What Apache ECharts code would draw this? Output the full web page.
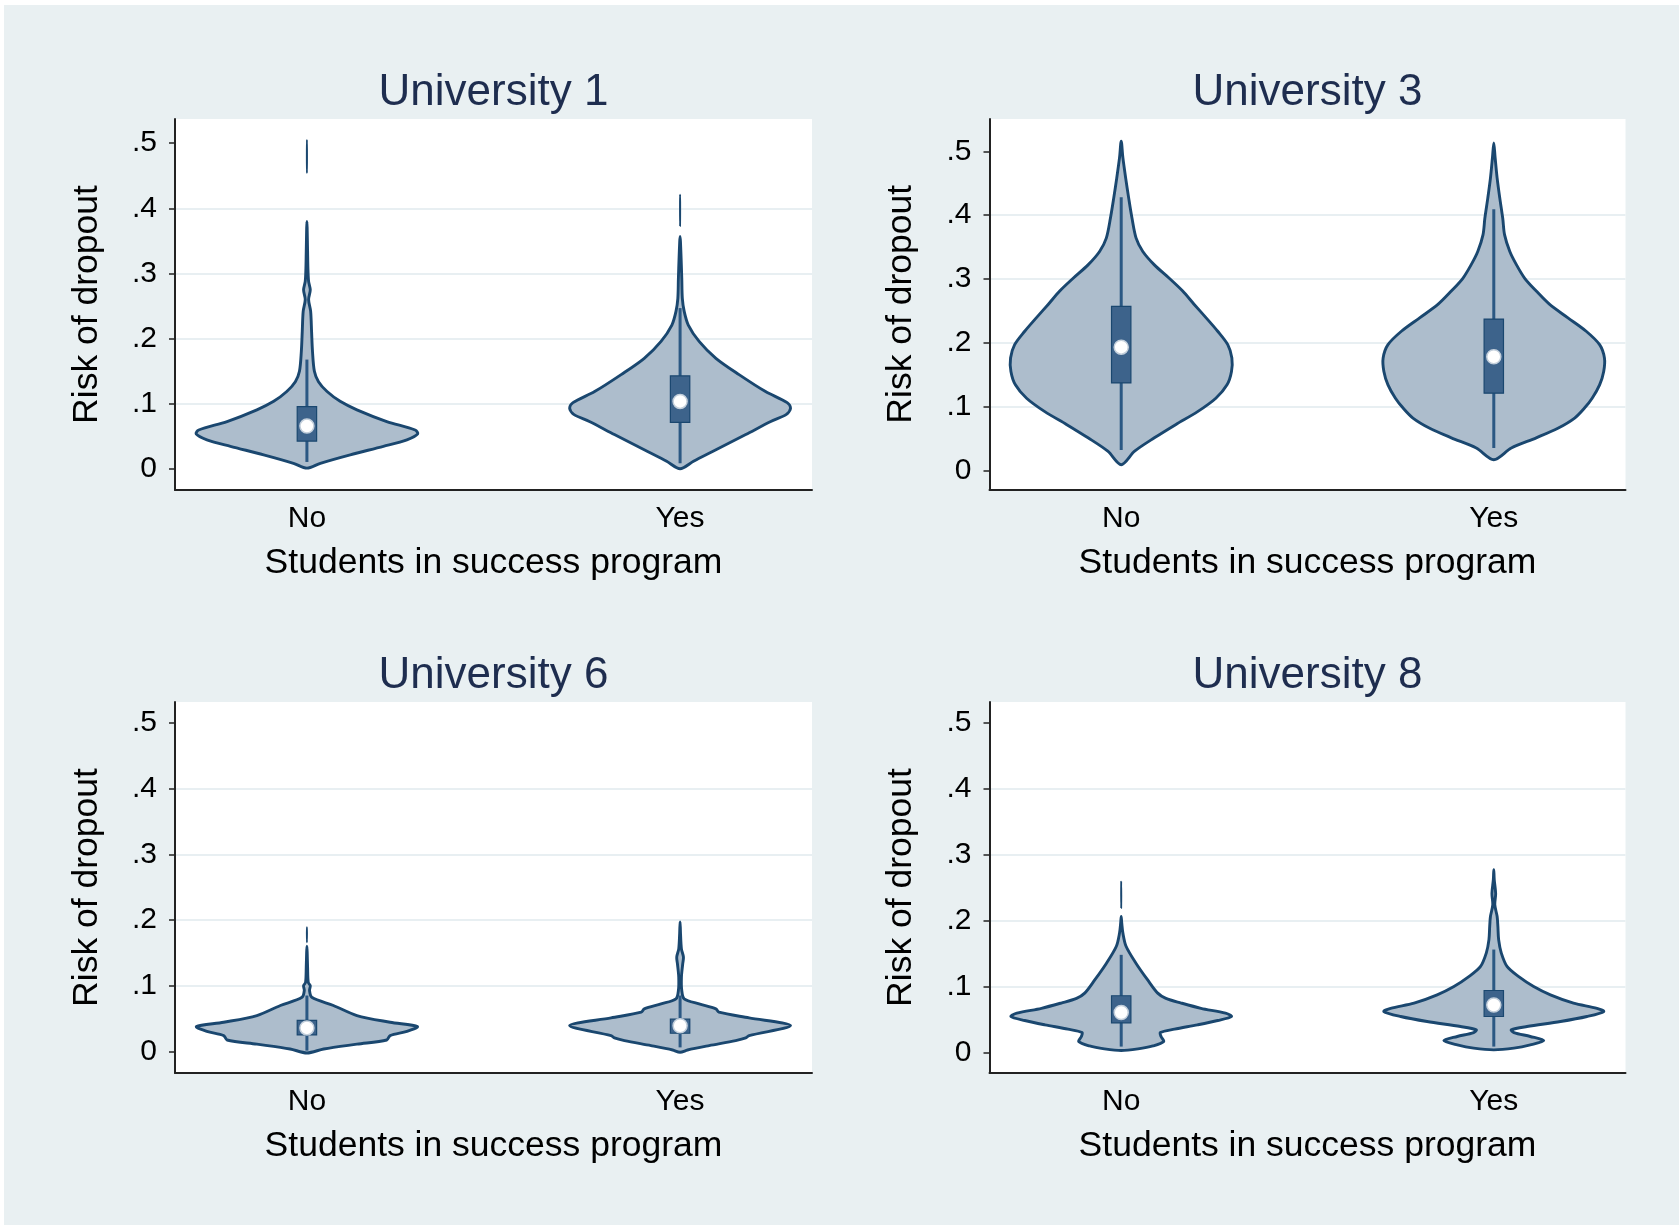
<!DOCTYPE html>
<html>
<head>
<meta charset="utf-8">
<script src="https://cdn.jsdelivr.net/npm/echarts@6/dist/echarts.min.js"></script>
<style>
html,body{margin:0;padding:0;background:#ffffff;}
#chart{width:1679px;height:1225px;}
</style>
</head>
<body>
<div id="chart"></div>
<script>
// ---------- data ----------
const categories = ['No', 'Yes'];
const yTickValues = [0, 0.1, 0.2, 0.3, 0.4, 0.5];
const yTickLabels = ['0', '.1', '.2', '.3', '.4', '.5'];
const panelTitles = ['University 1', 'University 3', 'University 6', 'University 8'];
const yAxisTitle = 'Risk of dropout';
const xAxisTitle = 'Students in success program';

// Violin outlines: [risk of dropout, half-width (density, x-axis units)]; null = gap in the outline
const u1NoViolin = [[0.0015,0],[0.009,0.036],[0.022,0.116],[0.035,0.205],[0.045,0.268],[0.054,0.297],[0.060,0.290],[0.073,0.214],[0.091,0.134],[0.104,0.089],[0.119,0.054],[0.134,0.031],[0.150,0.020],[0.180,0.015],[0.211,0.0125],[0.242,0.010],[0.260,0.0045],[0.275,0.009],[0.288,0.0045],[0.308,0.0027],[0.334,0.0018],[0.380,0],null,[0.454,0],[0.47,0.0003],[0.49,0.0003],[0.505,0]];
const u1YesViolin = [[0.0005,0],[0.012,0.036],[0.027,0.087],[0.053,0.176],[0.073,0.243],[0.084,0.285],[0.0936,0.296],[0.102,0.287],[0.119,0.229],[0.145,0.158],[0.170,0.096],[0.196,0.051],[0.221,0.022],[0.242,0.011],[0.262,0.006],[0.293,0.0045],[0.324,0.0027],[0.349,0.001],[0.357,0],null,[0.373,0],[0.39,0.0003],[0.41,0.0003],[0.421,0]];
const u3NoViolin = [[0.0089,0],[0.030,0.036],[0.051,0.089],[0.072,0.147],[0.092,0.205],[0.113,0.254],[0.134,0.284],[0.155,0.296],[0.176,0.297],[0.197,0.286],[0.218,0.259],[0.239,0.228],[0.260,0.196],[0.281,0.165],[0.301,0.129],[0.322,0.089],[0.343,0.058],[0.364,0.040],[0.395,0.029],[0.427,0.020],[0.458,0.012],[0.490,0.0045],[0.516,0]];
const u3YesViolin = [[0.0167,0],[0.035,0.047],[0.051,0.114],[0.066,0.172],[0.082,0.217],[0.098,0.244],[0.113,0.264],[0.134,0.284],[0.155,0.295],[0.176,0.297],[0.197,0.284],[0.218,0.248],[0.239,0.199],[0.260,0.150],[0.281,0.114],[0.301,0.083],[0.322,0.061],[0.343,0.043],[0.369,0.029],[0.395,0.024],[0.427,0.016],[0.458,0.009],[0.490,0.0036],[0.513,0]];
const u6NoViolin = [[-0.0025,0],[0.0036,0.045],[0.011,0.134],[0.0173,0.214],[0.024,0.223],[0.0305,0.268],[0.0377,0.296],[0.0443,0.223],[0.0545,0.134],[0.0698,0.071],[0.0825,0.013],[0.0927,0.007],[0.100,0.009],[0.105,0.0036],[0.128,0.0018],[0.149,0.0008],[0.160,0],null,[0.166,0],[0.18,0.0003],[0.189,0]];
const u6YesViolin = [[-0.0015,0],[0.002,0.020],[0.0087,0.078],[0.0163,0.149],[0.0204,0.176],[0.024,0.185],[0.0392,0.296],[0.051,0.185],[0.0596,0.104],[0.0647,0.096],[0.0723,0.051],[0.080,0.011],[0.0927,0.0045],[0.113,0.0036],[0.133,0.007],[0.1436,0.009],[0.156,0.0036],[0.179,0.0012],[0.197,0]];
const u8NoViolin = [[0.004,0],[0.0066,0.045],[0.011,0.085],[0.0177,0.114],[0.0253,0.107],[0.0313,0.105],[0.0364,0.143],[0.043,0.205],[0.0495,0.259],[0.0556,0.296],[0.0606,0.280],[0.068,0.214],[0.076,0.161],[0.083,0.120],[0.091,0.098],[0.111,0.071],[0.136,0.040],[0.162,0.013],[0.182,0.0045],[0.197,0.0015],[0.207,0],null,[0.22,0],[0.24,0.0003],[0.26,0]];
const u8YesViolin = [[0.005,0],[0.0076,0.054],[0.0126,0.098],[0.0192,0.134],[0.0253,0.098],[0.0313,0.054],[0.0354,0.047],[0.0404,0.089],[0.048,0.179],[0.0556,0.250],[0.0631,0.295],[0.068,0.277],[0.0758,0.214],[0.0884,0.152],[0.101,0.107],[0.116,0.067],[0.131,0.036],[0.152,0.020],[0.172,0.013],[0.192,0.011],[0.207,0.009],[0.225,0.0027],[0.242,0.005],[0.263,0.0012],[0.278,0]];

// Box summaries: [lower adjacent, q1, median, q3, upper adjacent]
const u1NoBox  = [0.011, 0.043, 0.066, 0.096, 0.168];
const u1YesBox = [0.009, 0.0716, 0.1038, 0.143, 0.247];
const u3NoBox  = [0.032, 0.137, 0.193, 0.257, 0.428];
const u3YesBox = [0.035, 0.121, 0.178, 0.237, 0.409];
const u6NoBox  = [0.001, 0.025, 0.0356, 0.047, 0.085];
const u6YesBox = [0.006, 0.0275, 0.039, 0.049, 0.085];
const u8NoBox  = [0.010, 0.046, 0.0616, 0.087, 0.149];
const u8YesBox = [0.010, 0.0556, 0.073, 0.095, 0.157];

// ---------- styling / layout ----------
const FONT = '"Liberation Sans", Arial, sans-serif';
const BG = '#e9f0f2';
const NAVY = '#1a476f';
const VIOLIN_FILL = '#adbdcc';
const BOX_FILL = '#3d638b';
const WHISKER = '#2b5883';
const BOX_HALF = 0.026;

const panels = [
  { title: panelTitles[0], grid: {left: 175, top: 119, width: 637, height: 371}, yMin: -0.032, yMax: 0.537, violins: [u1NoViolin, u1YesViolin], boxes: [u1NoBox, u1YesBox] },
  { title: panelTitles[1], grid: {left: 989.5, top: 119, width: 636, height: 370.5}, yMin: -0.030, yMax: 0.5506, violins: [u3NoViolin, u3YesViolin], boxes: [u3NoBox, u3YesBox] },
  { title: panelTitles[2], grid: {left: 175, top: 702, width: 637, height: 371}, yMin: -0.033, yMax: 0.532, violins: [u6NoViolin, u6YesViolin], boxes: [u6NoBox, u6YesBox] },
  { title: panelTitles[3], grid: {left: 989.5, top: 702, width: 636, height: 371}, yMin: -0.030, yMax: 0.532, violins: [u8NoViolin, u8YesViolin], boxes: [u8NoBox, u8YesBox] }
];

function makeRenderer(violins, boxes) {
  return function (params, api) {
    const i = params.dataIndex;
    const xc = api.value(0);
    const prof = violins[i];
    const box = boxes[i];
    const children = [];
    const segs = [];
    let seg = [];
    prof.forEach(function (p) {
      if (p === null) { if (seg.length) segs.push(seg); seg = []; }
      else seg.push(p);
    });
    if (seg.length) segs.push(seg);
    segs.forEach(function (s, si) {
      const right = s.map(function (p) { return api.coord([xc + p[1], p[0]]); });
      const leftSrc = s.slice().reverse().filter(function (p, k, arr) {
        return !((k === 0 || k === arr.length - 1) && p[1] === 0);
      });
      const left = leftSrc.map(function (p) { return api.coord([xc - p[1], p[0]]); });
      children.push({
        type: 'polygon',
        shape: { points: right.concat(left), smooth: 0.3 },
        style: { fill: VIOLIN_FILL, stroke: NAVY, lineWidth: si === 0 ? 2.9 : 1.8, lineJoin: 'round' }
      });
    });
    const lo = api.coord([xc, box[0]]);
    const hi = api.coord([xc, box[4]]);
    children.push({ type: 'line', shape: { x1: lo[0], y1: lo[1], x2: hi[0], y2: hi[1] }, style: { stroke: WHISKER, lineWidth: 3 } });
    const q3p = api.coord([xc - BOX_HALF, box[3]]);
    const q1p = api.coord([xc + BOX_HALF, box[1]]);
    children.push({ type: 'rect', shape: { x: q3p[0], y: q3p[1], width: q1p[0] - q3p[0], height: q1p[1] - q3p[1] }, style: { fill: BOX_FILL, stroke: NAVY, lineWidth: 1.2 } });
    const med = api.coord([xc, box[2]]);
    children.push({ type: 'circle', shape: { cx: med[0], cy: med[1], r: 7 }, style: { fill: '#ffffff', stroke: '#c3cfdb', lineWidth: 1.5 } });
    return { type: 'group', children: children };
  };
}

const option = {
  animation: false,
  backgroundColor: 'transparent',
  graphic: [{ type: 'rect', z: -10, silent: true, shape: { x: 4, y: 5, width: 1679, height: 1225 }, style: { fill: BG } }],
  title: panels.map(function (p) {
    return {
      text: p.title, left: p.grid.left + p.grid.width / 2, top: p.grid.top - 26,
      textAlign: 'center', textVerticalAlign: 'middle', padding: 0,
      textStyle: { fontFamily: FONT, fontSize: 44, fontWeight: 'normal', color: '#1e2d4f' }
    };
  }),
  grid: panels.map(function (p) {
    return Object.assign({ show: true, backgroundColor: '#ffffff', borderWidth: 0, containLabel: false, outerBoundsMode: 'none' }, p.grid);
  }),
  xAxis: panels.map(function (p, k) {
    return {
      type: 'value', gridIndex: k, min: 0.6465, max: 2.3535,
      name: xAxisTitle, nameLocation: 'middle', nameGap: 55.5,
      nameTextStyle: { fontFamily: FONT, fontSize: 35.5, color: '#000' },
      axisLine: { show: true, onZero: false, lineStyle: { color: '#222', width: 2 } },
      axisTick: { show: false },
      splitLine: { show: false },
      axisLabel: {
        customValues: [1, 2], margin: 14,
        formatter: function (v) { return categories[Math.round(v) - 1] || ''; },
        fontFamily: FONT, fontSize: 30, color: '#000'
      }
    };
  }),
  yAxis: panels.map(function (p, k) {
    return {
      type: 'value', gridIndex: k, min: p.yMin, max: p.yMax,
      name: yAxisTitle, nameLocation: 'middle', nameGap: 70, nameRotate: 90,
      nameTextStyle: { fontFamily: FONT, fontSize: 35.5, color: '#000' },
      axisLine: { show: true, onZero: false, lineStyle: { color: '#222', width: 2 } },
      axisTick: { show: true, customValues: yTickValues, length: 6, lineStyle: { color: '#222', width: 1.5 } },
      splitLine: { show: true, showMinLine: false, showMaxLine: false, lineStyle: { color: '#e8eff2', width: 2 } },
      axisLabel: {
        customValues: yTickValues, margin: 18, padding: [6, 0, 0, 0],
        formatter: function (v) {
          const idx = yTickValues.findIndex(function (t) { return Math.abs(t - v) < 1e-6; });
          return idx >= 0 ? yTickLabels[idx] : '';
        },
        fontFamily: FONT, fontSize: 30, color: '#000'
      }
    };
  }),
  series: panels.map(function (p, k) {
    return {
      type: 'custom', xAxisIndex: k, yAxisIndex: k, clip: true, silent: true,
      data: categories.map(function (c, i) { return [i + 1, p.boxes[i][2]]; }),
      encode: { x: 0, y: 1 },
      renderItem: makeRenderer(p.violins, p.boxes)
    };
  })
};

const chart = echarts.init(document.getElementById('chart'), null, { renderer: 'canvas' });
chart.setOption(option);
</script>
</body>
</html>
